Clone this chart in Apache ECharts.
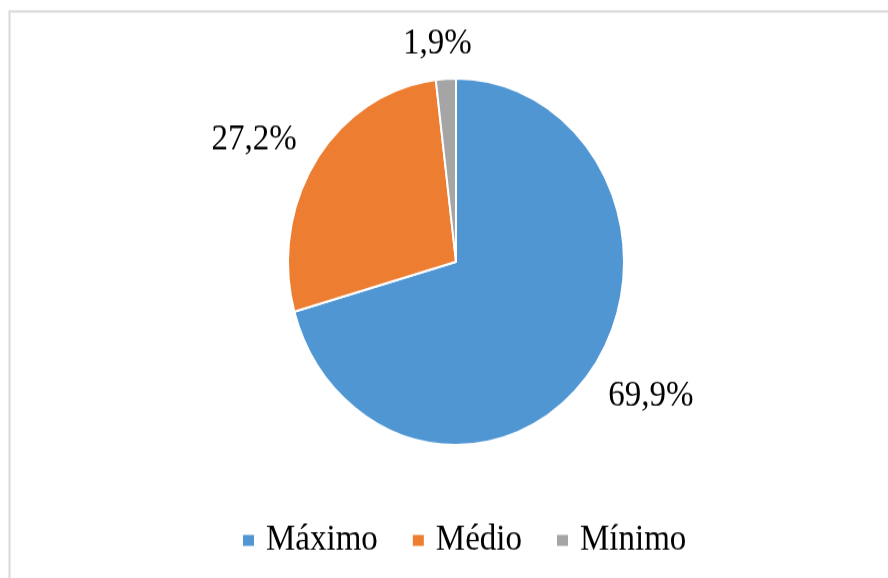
<!DOCTYPE html>
<html>
<head>
<meta charset="utf-8">
<script src="https://cdn.jsdelivr.net/npm/echarts@6/dist/echarts.min.js"></script>
<style>
  html, body { margin: 0; padding: 0; background: #fff; overflow: hidden; }
  #wrap { width: 888px; height: 578px; overflow: hidden; }
  /* the chart is drawn slightly stretched vertically */
  #chart { width: 888px; height: 530px; transform: scaleY(1.0906); transform-origin: 0 0; }
</style>
</head>
<body>
<div id="wrap"><div id="chart"></div></div>
<script>
const categories = ['Máximo', 'Médio', 'Mínimo'];
const values = [69.9, 27.2, 1.9];
const labels = ['69,9%', '27,2%', '1,9%'];
const colors = ['#4F96D2', '#ED7D31', '#A5A5A5'];

const FONT = '"Liberation Serif", "Times New Roman", serif';

const chart = echarts.init(document.getElementById('chart'), null, { renderer: 'canvas' });

// per-slice label nudges
const labelDx = [-14, 14, 33];
const labelDy = [2, 0, 2];

chart.setOption({
  animation: false,
  backgroundColor: '#ffffff',
  color: colors,
  graphic: [{
    type: 'rect',
    shape: { x: 9.5, y: 10.5, width: 1000, height: 800 },
    style: { fill: 'none', stroke: '#d9d9d9', lineWidth: 2 },
    silent: true
  }],
  legend: {
    data: categories,
    left: 236,
    top: 474,
    icon: 'rect',
    itemWidth: 13,
    itemHeight: 12,
    itemGap: 33,
    textStyle: { fontFamily: FONT, fontSize: 33, color: '#000', padding: [0, 0, 0, 6] }
  },
  series: [{
    type: 'pie',
    center: [456, 240],
    radius: 168,
    startAngle: 90,
    clockwise: true,
    avoidLabelOverlap: false,
    itemStyle: { borderColor: '#ffffff', borderWidth: 2 },
    label: {
      show: true,
      position: 'outside',
      fontFamily: FONT,
      fontSize: 33,
      color: '#000',
      formatter: p => labels[p.dataIndex]
    },
    labelLine: { show: false, length: 34, length2: 0 },
    labelLayout: p => ({ dx: labelDx[p.dataIndex], dy: labelDy[p.dataIndex] }),
    data: categories.map((name, i) => ({ name, value: values[i] }))
  }]
});
</script>
</body>
</html>
